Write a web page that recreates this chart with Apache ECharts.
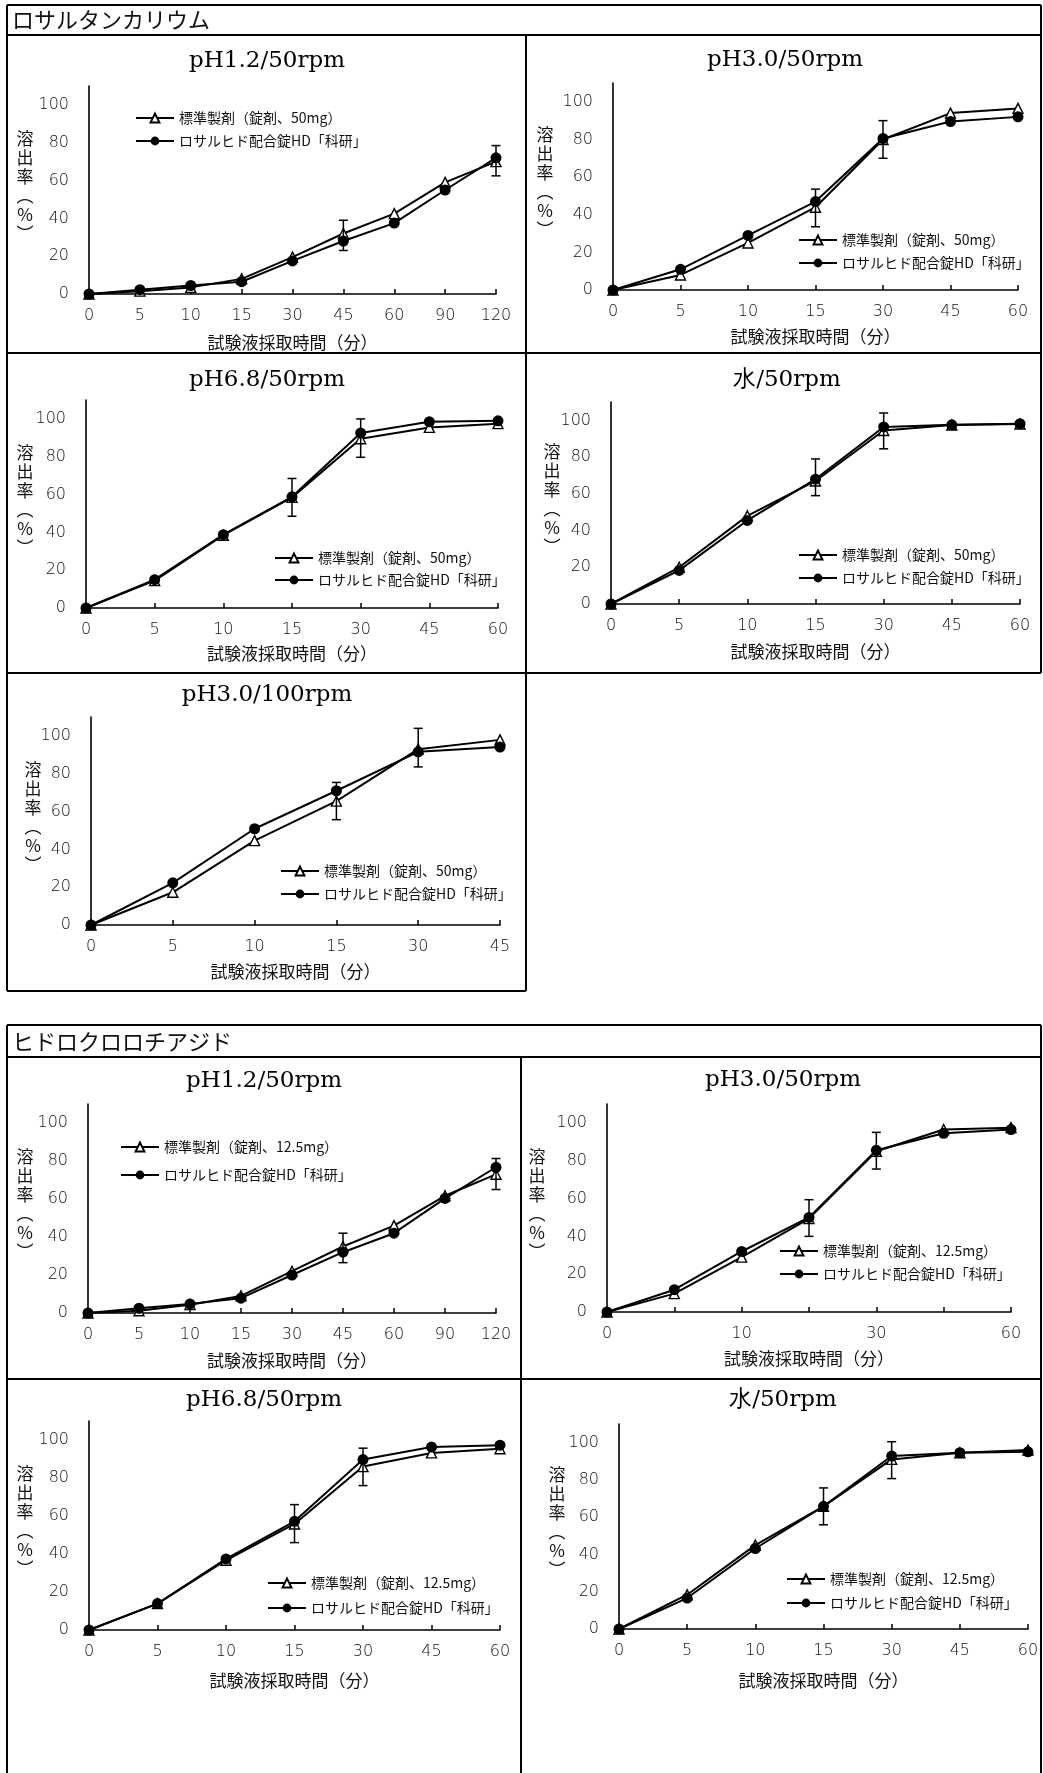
<!DOCTYPE html>
<html><head><meta charset="utf-8">
<script src="https://cdn.jsdelivr.net/npm/echarts@6/dist/echarts.min.js"></script>
<style>html,body{margin:0;padding:0;background:#fff;} #c{width:1043px;height:1773px;}</style>
</head><body><div id="c"></div><script>
// ---------- data ----------
const sectionTitles = ['ロサルタンカリウム', 'ヒドロクロロチアジド'];
const panelTitles = ['pH1.2/50rpm', 'pH3.0/50rpm', 'pH6.8/50rpm', '水/50rpm', 'pH3.0/100rpm',
                     'pH1.2/50rpm', 'pH3.0/50rpm', 'pH6.8/50rpm', '水/50rpm'];
const times120 = ['0', '5', '10', '15', '30', '45', '60', '90', '120'];
const times60 = ['0', '5', '10', '15', '30', '45', '60'];
const times45 = ['0', '5', '10', '15', '30', '45'];
const yTicks = [0, 20, 40, 60, 80, 100];
const xAxisName = '試験液採取時間（分）';
const yAxisNameVertical = '溶\n出\n率\n︵\n%\n︶';
const stdNameLos = '標準製剤（錠剤、50mg）';
const stdNameHct = '標準製剤（錠剤、12.5mg）';
const testName = 'ロサルヒド配合錠HD「科研」';

// Losartan potassium
const losPH12Std = [0, 1.5, 3.5, 8, 19.5, 32, 42.5, 59, 70];
const losPH12Test = [0, 2.3, 4.5, 6.5, 17.5, 28, 37.5, 55, 72];
const losPH12Err = [[45, 23, 39], [120, 62.5, 78.5]];
const losPH30Std = [0, 8, 25, 44, 80, 94, 96.5];
const losPH30Test = [0, 11, 29, 47, 80.5, 89.5, 92];
const losPH30Err = [[15, 33.6, 53.6], [30, 70, 90]];
const losPH68Std = [0, 14.5, 38.5, 58.5, 89.5, 95.5, 97.5];
const losPH68Test = [0, 15, 38.8, 58.8, 92.5, 98.5, 99];
const losPH68Err = [[15, 48.5, 68.5], [30, 79.7, 100]];
const losWaterStd = [0, 20, 48, 67, 94.5, 97.5, 98];
const losWaterTest = [0, 18.3, 45.5, 68, 96.4, 97.6, 98.2];
const losWaterErr = [[15, 59, 79], [30, 84.5, 104]];
const losPH30r100Std = [0, 17.3, 44.6, 65.5, 93, 97.9];
const losPH30r100Test = [0, 22.3, 50.9, 71, 91.6, 94.1];
const losPH30r100Err = [[15, 55.7, 75.4], [30, 83.6, 104]];
// Hydrochlorothiazide
const hctPH12Std = [0, 1.2, 4.4, 9, 22, 35, 46, 61.7, 73];
const hctPH12Test = [0, 2.5, 4.8, 7.8, 20, 32, 42, 60.3, 76.7];
const hctPH12Err = [[45, 26.5, 42], [120, 65, 81.3]];
const hctPH30Std = [0, 9.7, 29, 49.4, 85, 96.5, 97.5];
const hctPH30Test = [0, 11.8, 32, 50, 85.5, 94.5, 96.5];
const hctPH30Err = [[15, 40, 59.4], [30, 75.6, 95]];
const hctPH68Std = [0, 13.9, 36.7, 55.8, 86, 93.2, 95.4];
const hctPH68Test = [0, 13.9, 37.4, 57.2, 89.7, 96.3, 97.3];
const hctPH68Err = [[15, 46, 66], [30, 76, 95.7]];
const hctWaterStd = [0, 18.4, 45, 65.8, 91, 94.6, 96];
const hctWaterTest = [0, 16.6, 43.2, 65.8, 92.8, 94.6, 95.1];
const hctWaterErr = [[15, 55.9, 75.7], [30, 80.7, 100.5]];

const panelData = [
  { cats: times120, std: losPH12Std, test: losPH12Test, err: losPH12Err, stdName: stdNameLos },
  { cats: times60, std: losPH30Std, test: losPH30Test, err: losPH30Err, stdName: stdNameLos },
  { cats: times60, std: losPH68Std, test: losPH68Test, err: losPH68Err, stdName: stdNameLos },
  { cats: times60, std: losWaterStd, test: losWaterTest, err: losWaterErr, stdName: stdNameLos },
  { cats: times45, std: losPH30r100Std, test: losPH30r100Test, err: losPH30r100Err, stdName: stdNameLos },
  { cats: times120, std: hctPH12Std, test: hctPH12Test, err: hctPH12Err, stdName: stdNameHct },
  { cats: times60, std: hctPH30Std, test: hctPH30Test, err: hctPH30Err, stdName: stdNameHct, labelEvery: 1 },
  { cats: times60, std: hctPH68Std, test: hctPH68Test, err: hctPH68Err, stdName: stdNameHct },
  { cats: times60, std: hctWaterStd, test: hctWaterTest, err: hctWaterErr, stdName: stdNameHct }
];

// ---------- layout (pixels) ----------
const layout = [
  { left: 89, top: 86, width: 407, height: 208, cx: 267, ty: 61, lgL: 135, lgT: 110, lgG: 7, yGap: 64, xGap: 49 },
  { left: 613, top: 83, width: 405, height: 207, cx: 785, ty: 60, lgL: 798, lgT: 232, lgG: 7, yGap: 68, xGap: 47 },
  { left: 86, top: 400, width: 412, height: 208, cx: 267, ty: 380, lgL: 274, lgT: 550, lgG: 6, yGap: 61, xGap: 46 },
  { left: 611, top: 402, width: 409, height: 202, cx: 787, ty: 380, lgL: 798, lgT: 547, lgG: 7, yGap: 59, xGap: 48 },
  { left: 91, top: 717, width: 409, height: 208, cx: 267, ty: 695, lgL: 280, lgT: 863, lgG: 7, yGap: 58, xGap: 47 },
  { left: 88, top: 1104, width: 408, height: 209, cx: 264, ty: 1081, lgL: 120, lgT: 1139, lgG: 12, yGap: 63, xGap: 48 },
  { left: 607, top: 1104, width: 404, height: 208, cx: 783, ty: 1080, lgL: 779, lgT: 1243, lgG: 7, yGap: 70, xGap: 47 },
  { left: 89, top: 1421, width: 411, height: 209, cx: 264, ty: 1400, lgL: 267, lgT: 1575, lgG: 9, yGap: 64, xGap: 51 },
  { left: 619, top: 1424, width: 409, height: 205, cx: 783, ty: 1400, lgL: 786, lgT: 1571, lgG: 8, yGap: 62, xGap: 52 }
];

const labelFont = 'DejaVu Sans';
const cjkFont = 'Noto Sans CJK JP';
const grid = [], xAxis = [], yAxis = [], series = [], legend = [], graphic = [];

panelData.forEach((p, i) => {
  const L = layout[i];
  grid.push({ left: L.left, top: L.top, width: L.width, height: L.height, containLabel: false });
  xAxis.push({
    gridIndex: i, type: 'category', boundaryGap: false, data: p.cats,
    axisLine: { show: true, onZero: false, lineStyle: { color: '#000', width: 1.6 } },
    axisTick: { show: true, inside: true, length: 5, interval: 0, lineStyle: { color: '#000', width: 1.5 } },
    axisLabel: { interval: p.labelEvery || 0, margin: 14, fontSize: 16, color: '#111', fontFamily: labelFont, fontWeight: 300 },
    splitLine: { show: false },
    name: xAxisName, nameLocation: 'middle', nameGap: L.xGap, nameMoveOverlap: false,
    nameTextStyle: { fontSize: 17, color: '#111', fontFamily: cjkFont, verticalAlign: 'middle', align: 'center' }
  });
  yAxis.push({
    gridIndex: i, type: 'value', min: 0, max: 110, interval: 20,
    axisLine: { show: true, onZero: false, lineStyle: { color: '#000', width: 1.6 } },
    axisTick: { show: false },
    axisLabel: { margin: 20, fontSize: 16, color: '#111', fontFamily: labelFont, fontWeight: 300, showMaxLabel: false,
      formatter: v => (yTicks.indexOf(v) >= 0 ? String(v) : '') },
    splitLine: { show: false }
  });
  series.push({
    type: 'line', name: p.stdName, xAxisIndex: i, yAxisIndex: i, data: p.std,
    symbol: 'triangle', symbolSize: 10, showSymbol: true, z: 3,
    itemStyle: { color: '#fff', borderColor: '#000', borderWidth: 1.4 },
    lineStyle: { color: '#000', width: 2 }, animation: false
  });
  series.push({
    type: 'line', name: testName, xAxisIndex: i, yAxisIndex: i, data: p.test,
    symbol: 'circle', symbolSize: 11, showSymbol: true, z: 4,
    itemStyle: { color: '#000', borderColor: '#000', borderWidth: 0 },
    lineStyle: { color: '#000', width: 2 }, animation: false
  });
  series.push({
    type: 'custom', xAxisIndex: i, yAxisIndex: i, z: 5, animation: false, silent: true,
    data: p.err.map(e => [p.cats.indexOf(String(e[0])), e[1], e[2]]),
    encode: { x: 0, y: [1, 2] },
    renderItem: (params, api) => {
      const x = api.value(0);
      const a = api.coord([x, api.value(1)]);
      const b = api.coord([x, api.value(2)]);
      const w = 4.5;
      const st = { stroke: '#000', lineWidth: 1.5 };
      return { type: 'group', children: [
        { type: 'line', shape: { x1: a[0], y1: a[1], x2: b[0], y2: b[1] }, style: st },
        { type: 'line', shape: { x1: a[0] - w, y1: a[1], x2: a[0] + w, y2: a[1] }, style: st },
        { type: 'line', shape: { x1: b[0] - w, y1: b[1], x2: b[0] + w, y2: b[1] }, style: st }
      ] };
    }
  });
  legend.push({
    data: [p.stdName, testName], orient: 'vertical', left: L.lgL, top: L.lgT, padding: 0,
    itemWidth: 38, itemHeight: 11, itemGap: L.lgG, selectedMode: false,
    textStyle: { fontSize: 14, lineHeight: 16, color: '#111', fontFamily: cjkFont }
  });
  graphic.push({ type: 'text', x: L.cx, y: L.ty, silent: true,
    style: { text: panelTitles[i], fontSize: 23, fontFamily: 'DejaVu Serif', fill: '#000', align: 'center', verticalAlign: 'middle' } });
  // vertical y-axis title
  graphic.push({ type: 'text', x: L.left - L.yGap, y: L.top + L.height / 2 - 4, silent: true,
    style: { text: yAxisNameVertical, fontSize: 17, lineHeight: 19, fontFamily: cjkFont, fill: '#111', align: 'center', verticalAlign: 'middle' } });
});

// section titles
graphic.push({ type: 'text', x: 12, y: 20, style: { text: sectionTitles[0], fontSize: 22, fontFamily: cjkFont, fill: '#111', align: 'left', verticalAlign: 'middle' } });
graphic.push({ type: 'text', x: 12, y: 1042, style: { text: sectionTitles[1], fontSize: 22, fontFamily: cjkFont, fill: '#111', align: 'left', verticalAlign: 'middle' } });

// frame lines
const frameLines = [
  [7, 5, 1041, 5], [7, 35, 1041, 35], [7, 353, 1041, 353], [7, 673, 1041, 673], [7, 991, 526, 991],
  [7, 5, 7, 991], [526, 35, 526, 991], [1041, 5, 1041, 673],
  [7, 1025, 1041, 1025], [7, 1057, 1041, 1057], [7, 1379, 1041, 1379],
  [7, 1025, 7, 1773], [521, 1057, 521, 1773], [1041, 1025, 1041, 1773]
];
frameLines.forEach(l => graphic.push({ type: 'line', silent: true,
  shape: { x1: l[0], y1: l[1], x2: l[2], y2: l[3] }, style: { stroke: '#000', lineWidth: 2 } }));

const chart = echarts.init(document.getElementById('c'), null, { renderer: 'canvas' });
chart.setOption({
  backgroundColor: '#fff', animation: false,
  grid, xAxis, yAxis, series, legend, graphic, tooltip: { show: false }
});
</script></body></html>
